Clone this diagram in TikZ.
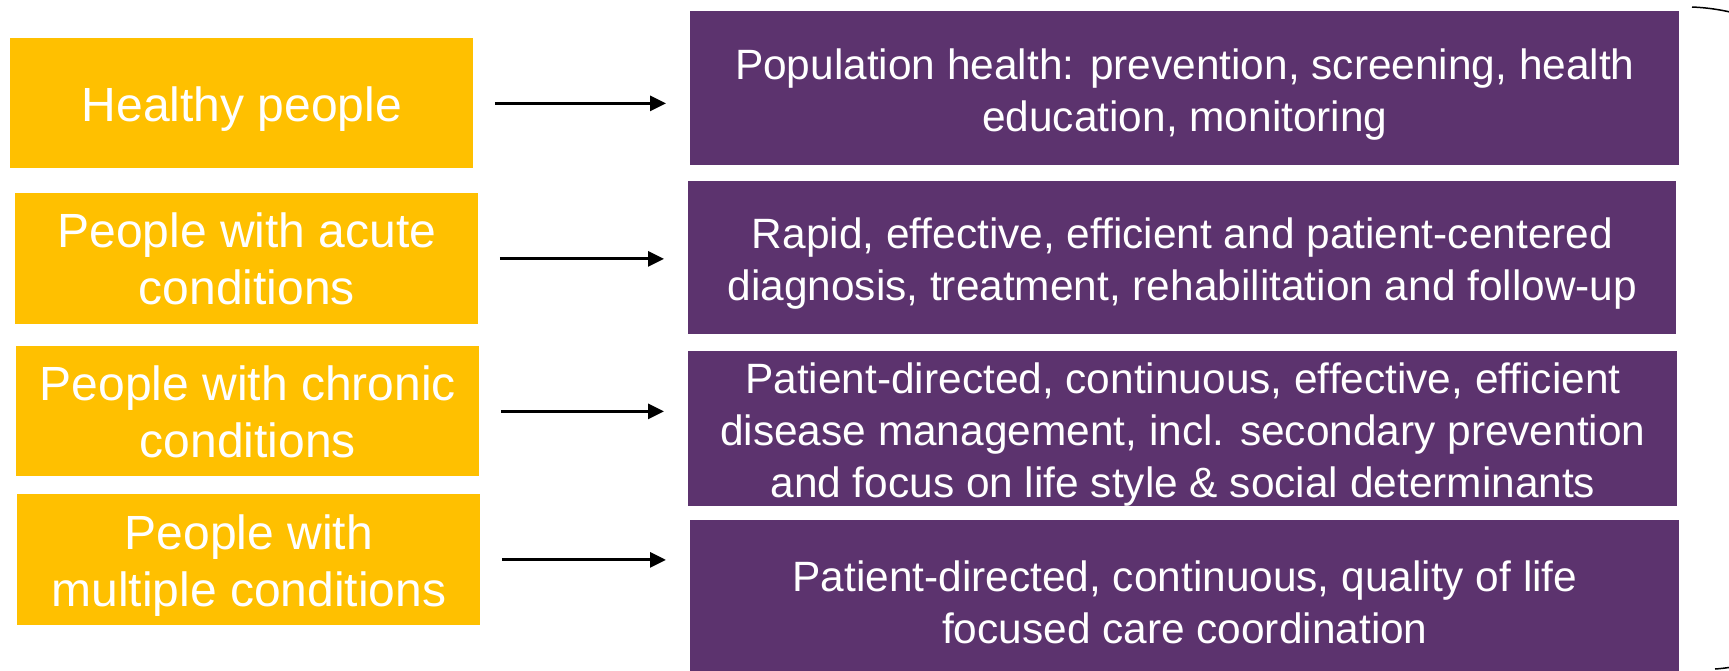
\documentclass[tikz,border=0pt]{standalone}
\usepackage{fontspec}
\setmainfont{Liberation Sans}
\usepackage{xcolor}
\usetikzlibrary{arrows.meta}

\definecolor{groupyellow}{RGB}{255,192,0}
\definecolor{carepurple}{RGB}{92,51,110}
% taller first line, to set the text a little lower in its box
\newcommand{\lowcare}{\rule{0pt}{21pt}}
\newcommand{\lowgroup}{\rule{0pt}{23pt}}

\begin{document}
\begin{tikzpicture}[x=0.5pt,y=-0.5pt,
  group/.style={fill=groupyellow, text=white, anchor=north west, align=center, inner sep=0pt,
    font=\fontsize{24pt}{28.5pt}\selectfont},
  care/.style={fill=carepurple, text=white, anchor=north west, align=center, inner sep=0pt,
    font=\fontsize{21.2pt}{26pt}\selectfont},
  arr/.style={-{Triangle[length=8pt,width=7.5pt]}, line width=1.5pt, shorten <=10.5pt, shorten >=12pt}]
%set diagram size
\useasboundingbox (0,0) rectangle (1729,670);
\clip (0,0) rectangle (1729,670);

%Shape: Rectangle, groups
\node [group, minimum width=231.5pt, minimum height=65pt]   (healthy) at (10,38)  {\lowgroup Healthy people};
\node [group, minimum width=231.5pt, minimum height=65.5pt] (acute)   at (15,193) {People with acute\\conditions};
\node [group, minimum width=231.5pt, minimum height=65pt]   (chronic) at (16,346) {People with chronic\\conditions};
\node [group, minimum width=231.5pt, minimum height=65.5pt] (multi)   at (17,494) {\lowgroup People with\\multiple conditions};

%Shape: Rectangle, care
\node [care, minimum width=494.5pt, minimum height=77pt]   (popcare)   at (690,11)  {\lowcare Population health: prevention, screening, health\\education, monitoring};
\node [care, minimum width=494pt,   minimum height=76.5pt] (acutecare) at (688,181) {\lowcare Rapid, effective, efficient and patient-centered\\diagnosis, treatment, rehabilitation and follow-up};
\node [care, minimum width=494.5pt, minimum height=76pt]   (chroncare) at (688,351) {\lowcare Patient-directed, continuous, effective, efficient\\disease management, incl. secondary prevention\\and focus on life style \& social determinants};
\node [care, minimum width=494.5pt, minimum height=76pt]   (multicare) at (690,520) {\lowcare Patient-directed, continuous, quality of life\\focused care coordination};

%Straight Lines
\draw [arr] (healthy.east) -- (healthy.east -| popcare.west);
\draw [arr] (acute.east)   -- (acute.east -| acutecare.west);
\draw [arr] (chronic.east) -- (chronic.east -| chroncare.west);
\draw [arr] (multi.east)   -- (multi.east -| multicare.west);

%Curve, right edge
\draw [line width=0.75pt] (1692,7) .. controls (2000,20) and (1990,650) .. (1715,669);

\end{tikzpicture}
\end{document}
